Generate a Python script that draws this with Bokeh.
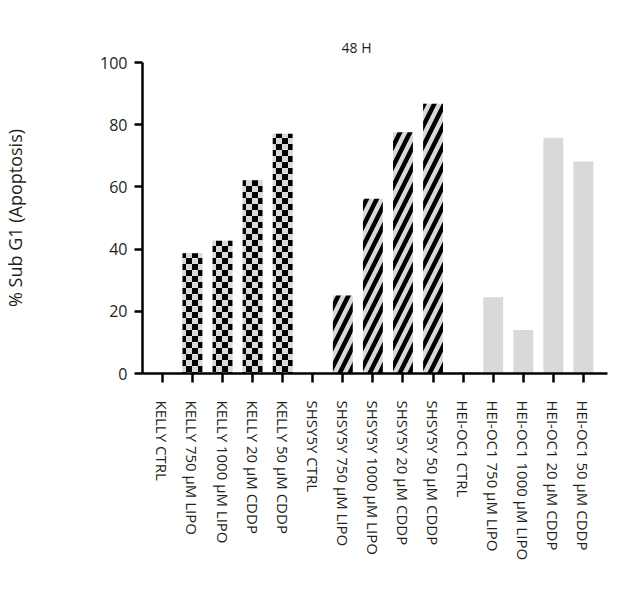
from bokeh.plotting import figure
from bokeh.models import Range1d, FixedTicker, CanvasTexture, ColumnDataSource
from bokeh.core.properties import value
from bokeh.embed import file_html
from bokeh.resources import INLINE

title_text = "48 H"
y_label = "% Sub G1 (Apoptosis)"

categories = [
    "KELLY CTRL", "KELLY 750 μM LIPO", "KELLY 1000 μM LIPO", "KELLY 20 μM CDDP", "KELLY 50 μM CDDP",
    "SHSY5Y CTRL", "SHSY5Y 750 μM LIPO", "SHSY5Y 1000 μM LIPO", "SHSY5Y 20 μM CDDP", "SHSY5Y 50 μM CDDP",
    "HEI-OC1 CTRL", "HEI-OC1 750 μM LIPO", "HEI-OC1 1000 μM LIPO", "HEI-OC1 20 μM CDDP", "HEI-OC1 50 μM CDDP",
]
values_pct = [0.0, 38.7, 42.7, 62.1, 77.1,
              0.0, 25.1, 56.2, 77.6, 86.7,
              0.5, 24.5, 14.0, 75.8, 68.2]
cell_line = ["KELLY"] * 5 + ["SHSY5Y"] * 5 + ["HEI-OC1"] * 5
y_ticks = [0, 20, 40, 60, 80, 100]

FONT = "Open Sans"
BAR_GRAY = "#d9d9d9"
TEXT = "#231f20"

p = figure(width=622, height=604, output_backend="svg", toolbar_location=None,
           x_range=Range1d(-0.66, 14.8), y_range=Range1d(0, 100),
           min_border_left=140, min_border_right=15, min_border_top=62, min_border_bottom=231)
p.outline_line_color = None
p.xgrid.visible = False
p.ygrid.visible = False
p.background_fill_color = "white"

p.title.text = title_text
p.title.align = "left"
p.title.offset = 199
p.title.standoff = 11
p.title.text_font = FONT
p.title.text_font_size = "14px"
p.title.text_font_style = "normal"
p.title.text_color = TEXT

checker = CanvasTexture(code="""
const c = ctx.canvas;
c.width = 12; c.height = 12;
ctx.fillStyle = '#d9d9d9';
ctx.fillRect(0, 0, 12, 12);
ctx.fillStyle = '#000000';
ctx.fillRect(0, 0, 6, 6);
ctx.fillRect(6, 6, 6, 6);
""", repetition="repeat")

xs = list(range(len(categories)))

def subset(name):
    idx = [i for i, c in enumerate(cell_line) if c == name]
    return ColumnDataSource(dict(x=[xs[i] for i in idx], top=[values_pct[i] for i in idx]))

p.vbar(x="x", top="top", bottom=0, width=0.66, source=subset("KELLY"),
       fill_color=BAR_GRAY, line_color=None,
       hatch_pattern=value("checker"), hatch_extra={"checker": checker},
       hatch_scale=12, hatch_color="black")
p.vbar(x="x", top="top", bottom=0, width=0.66, source=subset("SHSY5Y"),
       fill_color=BAR_GRAY, line_color=None,
       hatch_pattern="right_diagonal_line", hatch_scale=20, hatch_weight=4.5, hatch_color="black")
p.vbar(x="x", top="top", bottom=0, width=0.66, source=subset("HEI-OC1"),
       fill_color=BAR_GRAY, line_color=None)

# axes
p.yaxis.ticker = FixedTicker(ticks=y_ticks)
p.yaxis.minor_tick_line_color = None
p.yaxis.major_tick_in = 0
p.yaxis.major_tick_out = 8
p.yaxis.major_tick_line_width = 2.5
p.yaxis.axis_line_width = 2.5
p.yaxis.major_label_standoff = 7
p.yaxis.major_label_text_font = FONT
p.yaxis.major_label_text_font_size = "16px"
p.yaxis.major_label_text_color = TEXT
p.yaxis.axis_label = y_label
p.yaxis.axis_label_text_font = FONT
p.yaxis.axis_label_text_font_size = "18px"
p.yaxis.axis_label_text_font_style = "normal"
p.yaxis.axis_label_text_color = TEXT
p.yaxis.axis_label_standoff = 70

p.xaxis.ticker = FixedTicker(ticks=xs)
p.xaxis.major_label_overrides = {i: c for i, c in zip(xs, categories)}
p.xaxis.major_label_orientation = "vertical"
p.xaxis.minor_tick_line_color = None
p.xaxis.major_tick_in = 0
p.xaxis.major_tick_out = 9
p.xaxis.major_tick_line_width = 2.5
p.xaxis.axis_line_width = 2.5
p.xaxis.major_label_standoff = 18
p.xaxis.major_label_text_font = FONT
p.xaxis.major_label_text_font_size = "15px"
p.xaxis.major_label_text_color = TEXT

open("out.html", "w").write(file_html(p, INLINE))
